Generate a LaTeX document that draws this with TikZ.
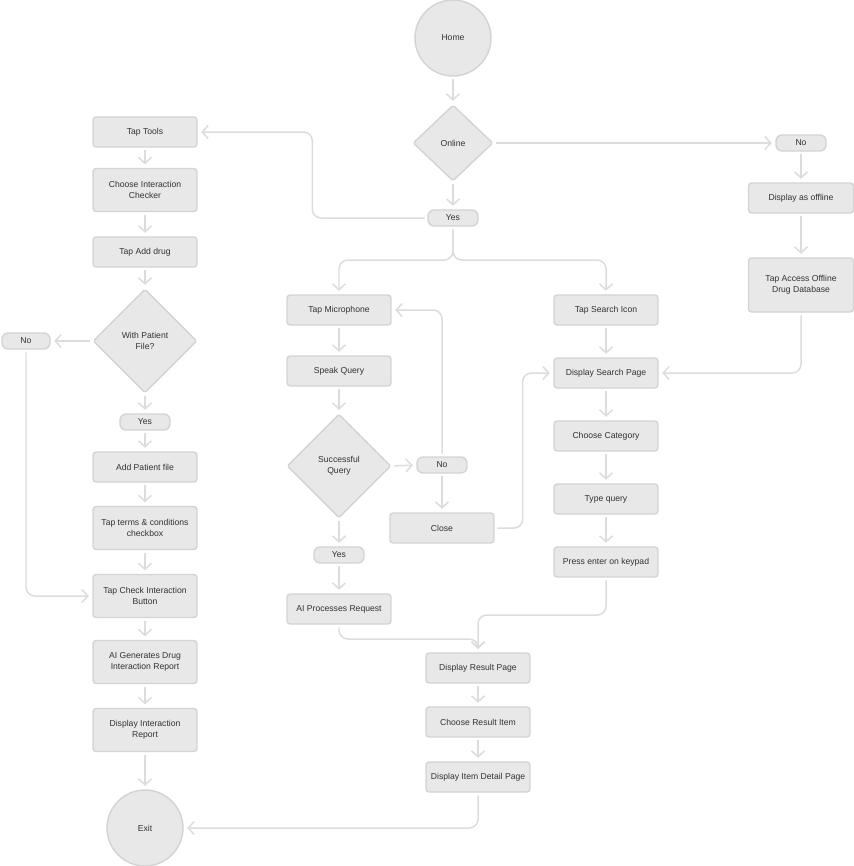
\documentclass[tikz,border=0pt]{standalone}
\usepackage{fontspec}
\setmainfont{Liberation Sans}
\usetikzlibrary{shapes.geometric,arrows.meta}
\definecolor{boxfill}{HTML}{E8E8E8}
\definecolor{boxline}{HTML}{D3D3D3}
\definecolor{flowline}{HTML}{DCDCDC}
\definecolor{ink}{HTML}{333333}

\begin{document}
\begin{tikzpicture}[x=0.02cm,y=-0.02cm,
  >={Straight Barb[length=3.4pt,width=7.4pt]},
  font=\fontsize{4.9}{6.4}\selectfont,
  every node/.style={text=ink},
  box/.style={draw=boxline,fill=boxfill,line width=0.8pt,rounded corners=1.8pt,
    minimum width=2.08cm,minimum height=0.6cm,align=center,inner sep=1pt},
  tallbox/.style={box,minimum height=0.86cm},
  pill/.style={draw=boxline,fill=boxfill,line width=0.8pt,rounded corners=3.5pt,
    minimum width=1cm,minimum height=0.32cm,inner sep=0pt},
  decision/.style={diamond,draw=boxline,fill=boxfill,line width=0.8pt,
    rounded corners=1pt,inner sep=0pt,align=center},
  endpoint/.style={circle,draw=boxline,fill=boxfill,line width=0.8pt,
    minimum size=1.52cm,inner sep=0pt},
  flow/.style={draw=flowline,line width=0.85pt,rounded corners=5pt,
    shorten >=2pt,shorten <=1.5pt}]
  \useasboundingbox (0,0) rectangle (854,866);

  % start
  \node[endpoint] (home) at (453,38) {Home};
  \node[decision,minimum width=1.6cm,minimum height=1.52cm] (online) at (453,143) {Online};
  \node[pill] (yesTop) at (453,218) {Yes};
  \node[pill] (noTop) at (801,143) {No};

  % offline branch
  \node[box,minimum width=2.1cm] (offline) at (801,198) {Display as offline};
  \node[box,minimum width=2.1cm,minimum height=1.08cm] (offlineDb) at (801,285) {Tap Access Offline\\Drug Database};

  % interaction checker
  \node[box] (tools) at (145,132) {Tap Tools};
  \node[tallbox] (checker) at (145,190) {Choose Interaction\\Checker};
  \node[box] (addDrug) at (145,252) {Tap Add drug};
  \node[decision,minimum width=2.08cm,minimum height=2.08cm] (patient) at (145,341) {With Patient\\File?};
  \node[pill,minimum width=0.96cm] (noLeft) at (26,341) {No};
  \node[pill] (yesLeft) at (145,422) {Yes};
  \node[box] (addFile) at (145,467) {Add Patient file};
  \node[tallbox] (terms) at (145,528) {Tap terms \& conditions\\checkbox};
  \node[tallbox] (checkBtn) at (145,596) {Tap Check Interaction\\Button};
  \node[tallbox] (report) at (145,662) {AI Generates Drug\\Interaction Report};
  \node[tallbox] (showReport) at (145,730) {Display Interaction\\Report};
  \node[endpoint] (exit) at (145,828) {Exit};

  % voice search
  \node[box] (mic) at (339,310) {Tap Microphone};
  \node[box] (speak) at (339,371) {Speak Query};
  \node[decision,minimum width=2.08cm,minimum height=2.08cm] (query) at (339,466) {Successful\\Query};
  \node[pill] (noMid) at (442,465) {No};
  \node[box] (close) at (442,528) {Close};
  \node[pill] (yesMid) at (339,555) {Yes};
  \node[box] (aiProc) at (339,609) {AI Processes Request};

  % text search
  \node[box] (searchIcon) at (606,310) {Tap Search Icon};
  \node[box] (searchPage) at (606,373) {Display Search Page};
  \node[box] (category) at (606,436) {Choose Category};
  \node[box] (typeQuery) at (606,499) {Type query};
  \node[box] (enter) at (606,562) {Press enter on keypad};

  % results
  \node[box] (result) at (478,668) {Display Result Page};
  \node[box] (item) at (478,722) {Choose Result Item};
  \node[box] (detail) at (478,777) {Display Item Detail Page};

  \coordinate (split) at (453,260);
  \coordinate (mergeHigh) at (478,615);
  \coordinate (mergeLow) at (478,639);

  % main line
  \draw[flow,->] (home) -- (online);
  \draw[flow,->] (online) -- (yesTop);
  \draw[flow,->] (online.east) -- (noTop.west);
  \draw[flow,->] (noTop) -- (offline);
  \draw[flow,->] (offline) -- (offlineDb);
  \draw[flow,->] (offlineDb.south) |- (searchPage.east);
  \draw[flow,->] (yesTop.west) -- ++(-115,0) |- (tools.east);
  \draw[flow,->] (yesTop.south) -- (split) -| (mic.north);
  \draw[flow,->] (yesTop.south) -- (split) -| (searchIcon.north);

  % left column
  \draw[flow,->] (tools) -- (checker);
  \draw[flow,->] (checker) -- (addDrug);
  \draw[flow,->] (addDrug) -- (patient);
  \draw[flow,->] (patient.west) -- (noLeft.east);
  \draw[flow,->] (patient) -- (yesLeft);
  \draw[flow,->] (yesLeft) -- (addFile);
  \draw[flow,->] (addFile) -- (terms);
  \draw[flow,->] (terms) -- (checkBtn);
  \draw[flow,->] (noLeft.south) |- (checkBtn.west);
  \draw[flow,->] (checkBtn) -- (report);
  \draw[flow,->] (report) -- (showReport);
  \draw[flow,->] (showReport) -- (exit);

  % voice
  \draw[flow,->] (mic) -- (speak);
  \draw[flow,->] (speak) -- (query);
  \draw[flow,->] (query.east) -- (noMid.west);
  \draw[flow,->] (noMid) -- (close);
  \draw[flow,->] (noMid.north) |- (mic.east);
  \draw[flow,->] (close.east) -- ++(28,0) |- (searchPage.west);
  \draw[flow,->] (query) -- (yesMid);
  \draw[flow,->] (yesMid) -- (aiProc);
  \draw[flow,->] (aiProc.south) |- (mergeLow) -- (result.north);

  % search
  \draw[flow,->] (searchIcon) -- (searchPage);
  \draw[flow,->] (searchPage) -- (category);
  \draw[flow,->] (category) -- (typeQuery);
  \draw[flow,->] (typeQuery) -- (enter);
  \draw[flow,->] (enter.south) |- (mergeHigh) -- (result.north);

  % results
  \draw[flow,->] (result) -- (item);
  \draw[flow,->] (item) -- (detail);
  \draw[flow,->] (detail.south) |- (exit.east);
\end{tikzpicture}
\end{document}
